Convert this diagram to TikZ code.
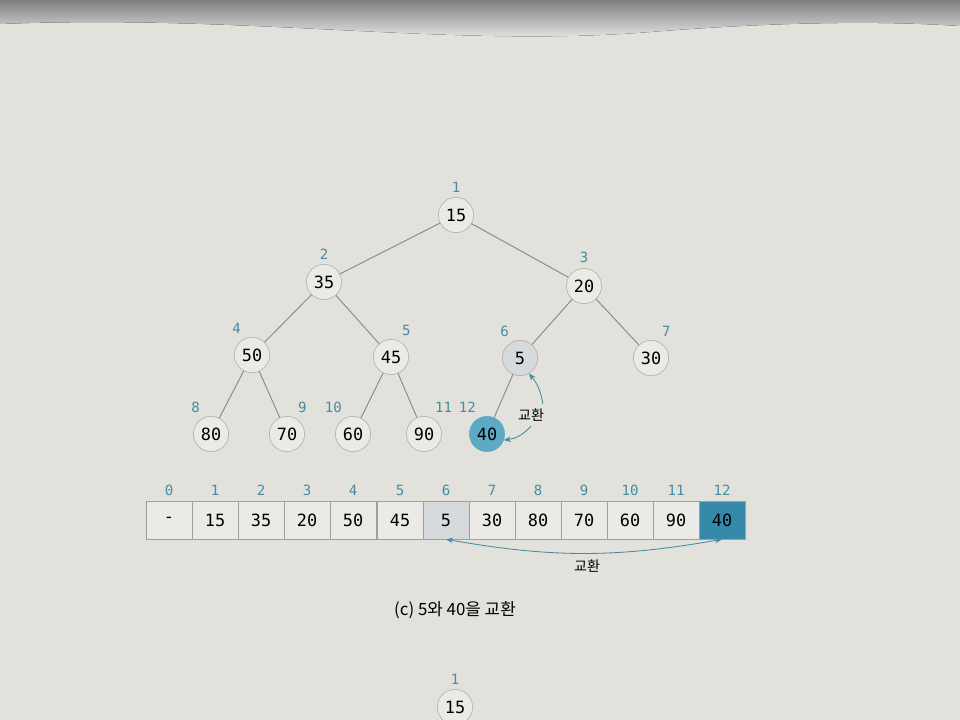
\documentclass[tikz,border=0pt]{standalone}
\usepackage{fontspec}
\setmainfont{Noto Sans CJK KR}
\setmonofont{DejaVu Sans Mono}
\usetikzlibrary{arrows.meta}
\definecolor{paper}{RGB}{226,225,220}
\definecolor{shade}{RGB}{40,36,36}
\definecolor{idxcol}{RGB}{70,140,160}
\definecolor{hot}{RGB}{92,170,196}
\definecolor{hotcell}{RGB}{52,138,168}
\definecolor{pale}{RGB}{214,218,220}
\begin{document}
\begin{tikzpicture}[x=0.025cm,y=-0.025cm]
\tikzstyle{vertex}=[circle,draw=gray!65,fill=paper!70!white,minimum size=0.88cm,inner sep=0pt,font=\ttfamily\large]
\tikzstyle{cell}=[draw=gray!75,fill=paper!70!white,minimum width=1.15cm,minimum height=0.95cm,inner sep=0pt,font=\ttfamily\large]
\tikzstyle{idx}=[text=idxcol,font=\ttfamily]
\tikzstyle{edge}=[draw=gray!90,line width=0.7pt]
\tikzstyle{swap}=[draw=idxcol,line width=0.6pt,-{Stealth[length=5pt,width=4pt]}]
\useasboundingbox (0,0) rectangle (960,720);
\clip (0,0) rectangle (960,720);
% page and the dark edge above it
\fill[paper] (0,0) rectangle (960,720);
\fill[shade] (0,0) -- (0,24) .. controls (250,14) and (450,48) .. (650,32) .. controls (800,20) and (900,22) .. (960,26) -- (960,0) -- cycle;
% tree
\node[vertex,label={[idx]above:1}] (V1) at (456,215) {15};
\node[vertex,label={[idx]above:2}] (V2) at (324,282) {35};
\node[vertex,label={[idx]above:3}] (V3) at (584,286) {20};
\node[vertex,label={[idx]110:4}] (V4) at (252,355) {50};
\node[vertex,label={[idx]70:5}] (V5) at (391,357) {45};
\node[vertex,fill=pale,label={[idx]110:6}] (V6) at (520,358) {5};
\node[vertex,label={[idx]70:7}] (V7) at (651,358) {30};
\node[vertex,label={[idx]110:8}] (V8) at (211,434) {80};
\node[vertex,label={[idx]70:9}] (V9) at (287,434) {70};
\node[vertex,label={[idx]110:10}] (V10) at (353,434) {60};
\node[vertex,label={[idx]70:11}] (V11) at (424,434) {90};
\node[vertex,fill=hot,draw=hot,label={[idx]110:12}] (V12) at (487,434) {40};
\draw[edge] (V1) -- (V2) -- (V4) -- (V8);
\draw[edge] (V1) -- (V3) -- (V6) -- (V12);
\draw[edge] (V2) -- (V5) -- (V10);
\draw[edge] (V4) -- (V9);
\draw[edge] (V5) -- (V11);
\draw[edge] (V3) -- (V7);
\node (T1) at (531,415) {교환};
\draw[swap] (T1.north east) ++(-6,0) to[bend right=15] (V6.-60);
\draw[swap] (T1.south) to[bend left=20] (V12.-20);
% array
\node[cell,label={[idx]above:0}] (A0) at (169,520) {-};
\node[cell,label={[idx]above:1}] (A1) at (215,520) {15};
\node[cell,label={[idx]above:2}] (A2) at (261,520) {35};
\node[cell,label={[idx]above:3}] (A3) at (307,520) {20};
\node[cell,label={[idx]above:4}] (A4) at (353,520) {50};
\node[cell,label={[idx]above:5}] (A5) at (400,520) {45};
\node[cell,fill=pale,label={[idx]above:6}] (A6) at (446,520) {5};
\node[cell,label={[idx]above:7}] (A7) at (492,520) {30};
\node[cell,label={[idx]above:8}] (A8) at (538,520) {80};
\node[cell,label={[idx]above:9}] (A9) at (584,520) {70};
\node[cell,label={[idx]above:10}] (A10) at (630,520) {60};
\node[cell,label={[idx]above:11}] (A11) at (676,520) {90};
\node[cell,fill=hotcell,label={[idx]above:12}] (A12) at (722,520) {40};
\draw[swap,{Stealth[length=5pt,width=4pt]}-{Stealth[length=5pt,width=4pt]}] (A6.south) to[bend right=10] (A12.south);
\node (T2) at (587,566) {교환};
\node[font=\large] (C) at (455,610) {(c) 5와 40을 교환};
% next step
\node[vertex,label={[idx]above:1}] (W1) at (455,707) {15};
\end{tikzpicture}
\end{document}
